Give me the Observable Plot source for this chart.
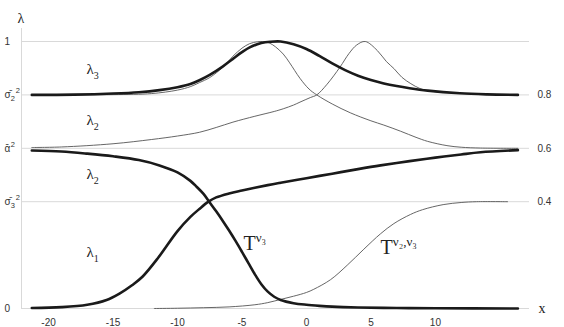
<!DOCTYPE html>
<html>
<head>
<meta charset="utf-8">
<script src="https://cdn.jsdelivr.net/npm/d3@7"></script>
<script src="https://cdn.jsdelivr.net/npm/@observablehq/plot@0.6"></script>
<style>
  html, body { margin: 0; padding: 0; background: #fff; }
  svg { display: block; }
</style>
</head>
<body>
<div id="chart"></div>
<script>
// ---- data ----
const xTicks = [-20, -15, -10, -5, 0, 5, 10];
const gridValues = [0, 0.4, 0.6, 0.8, 1];
const leftTickValues = [0, 0.4, 0.6, 0.8, 1];
const leftTickBase = ["0", "σ\u0304", "α\u0304", "σ\u0304", "1"];
const leftTickSub = ["", "3", "", "2", ""];
const leftTickSup = ["", "2", "2", "2", ""];
const rightTickValues = [0.4, 0.6, 0.8];
const rightTickLabels = ["0.4", "0.6", "0.8"];

// thick curves
const lam1X = [-21.3,-19,-17,-15.5,-14.5,-13.5,-12.7,-11.5,-10,-9,-8.3,-7.6,-7,-6,-5,-3,-2,0,2,4,5.75,8,10,12,13.5,16.4];
const lam1Y = [0.002,0.005,0.014,0.032,0.056,0.088,0.12,0.19,0.29,0.343,0.373,0.4,0.416,0.431,0.442,0.462,0.471,0.488,0.505,0.522,0.536,0.552,0.565,0.577,0.585,0.593];

const lam2X = [-21.3,-19,-17,-15,-13,-11.4,-10,-9,-8.5,-8,-7.5,-7,-6.5,-6,-5.5,-5,-4.5,-4,-3.5,-3,-2.5,-2,-1,0,1,2,4,7,10,16.4];
const lam2Y = [0.592,0.588,0.58,0.57,0.556,0.536,0.51,0.478,0.455,0.43,0.397,0.364,0.329,0.292,0.253,0.212,0.17,0.128,0.091,0.063,0.044,0.032,0.02,0.014,0.01,0.007,0.004,0.002,0.001,0.0];

const lam3X = [-21.3,-18,-15,-13,-11.4,-10,-9,-8.3,-7.5,-6.5,-5.7,-5,-4.4,-3.5,-2.8,-2,-1,0,1,2,3,4,5,6,7,8,9.4,11.9,14,16.4];
const lam3Y = [0.8,0.801,0.805,0.81,0.818,0.829,0.841,0.855,0.875,0.906,0.935,0.96,0.978,0.994,0.999,1.0,0.99,0.972,0.946,0.918,0.893,0.872,0.856,0.843,0.833,0.825,0.816,0.806,0.802,0.8];

// thin curves
const thinAX = [-21.3,-15,-12,-10,-9,-8.3,-7.5,-6.5,-5.7,-5,-4.4,-3.8,-3.4,-2.9,-2.4,-1.8,-1.3,-0.5,0.2,0.8,2,3.4,5,6,7.3,8.5,9.4,10.9,12,13.5,16.4];
const thinAY = [0.8,0.801,0.805,0.818,0.831,0.846,0.865,0.903,0.945,0.975,0.992,0.999,1.0,0.995,0.98,0.953,0.92,0.862,0.822,0.8,0.766,0.733,0.703,0.687,0.664,0.641,0.626,0.61,0.604,0.601,0.6];

const thinBX = [-21.3,-19,-15,-12,-10,-8.3,-7,-5.7,-4,-2.5,-1.8,-1,-0.5,0.3,0.8,1.6,2.6,3.3,3.9,4.56,5.5,6.2,6.8,7.4,8.1,8.8,9.5,11.9,14,16.4];
const thinBY = [0.603,0.605,0.617,0.633,0.646,0.66,0.678,0.698,0.72,0.738,0.748,0.762,0.773,0.79,0.8,0.84,0.904,0.955,0.987,1.0,0.966,0.925,0.898,0.866,0.842,0.824,0.815,0.806,0.802,0.8];

const thinTX = [-11.8,-10,-8,-6,-4,-3,-2,-1,0,0.57,1.87,3.16,4.45,5.75,6.78,8.06,9,10.6,12,13.2,15.6];
const thinTY = [0,0.001,0.003,0.006,0.014,0.022,0.034,0.046,0.06,0.072,0.108,0.162,0.222,0.28,0.318,0.352,0.37,0.389,0.397,0.4,0.4];

// curve labels
const labelX = [-17.06,-17.06,-17.06,-17.06,-4.88,5.75];
const labelY = [0.898,0.704,0.504,0.211,0.242,0.227];
const labelBase = ["λ","λ","λ","λ","T","T"];
const labelSub = ["3","2","2","1","",""];
const labelSup = ["","","","","ν\u2083","ν\u2082,ν\u2083"];

// ---- build tables ----
const toPts = (xs, ys) => xs.map((x, i) => ({x, y: ys[i]}));
const thick = [toPts(lam1X, lam1Y), toPts(lam2X, lam2Y), toPts(lam3X, lam3Y)];
const thin = [toPts(thinAX, thinAY), toPts(thinBX, thinBY), toPts(thinTX, thinTY)];
const labels = labelX.map((x, i) => ({x, y: labelY[i], base: labelBase[i], sub: labelSub[i], sup: labelSup[i], i}));
const leftTicks = leftTickValues.map((v, i) => ({v, base: leftTickBase[i], sub: leftTickSub[i], sup: leftTickSup[i], i}));

const xMin = -22.1, xMax = 17.3, yMax = 1.0487;
const sans = "'Liberation Sans', Arial, sans-serif";
const serif = "'Liberation Serif', 'Times New Roman', serif";

const svg = Plot.plot({
  width: 564,
  height: 327,
  marginLeft: 21,
  marginRight: 35,
  marginTop: 28,
  marginBottom: 19,
  x: {domain: [xMin, xMax], axis: null},
  y: {domain: [0, yMax], axis: null},
  style: {background: "#fff", overflow: "visible"},
  marks: [
    Plot.ruleY(gridValues, {x1: () => xMin, x2: () => xMax, stroke: "#d9d9d9", strokeWidth: 1}),
    Plot.ruleX([xMin], {y1: () => 0, y2: () => yMax, stroke: "#d9d9d9", strokeWidth: 1}),
    ...thin.map(d => Plot.line(d, {x: "x", y: "y", curve: "catmull-rom", stroke: "#555", strokeWidth: 0.9})),
    ...thick.map(d => Plot.line(d, {x: "x", y: "y", curve: "catmull-rom", stroke: "#1a1a1a", strokeWidth: 2.6})),
    // bottom tick labels
    Plot.text(xTicks, {x: d => d, y: () => 0, dy: 14, text: d => String(d), fontSize: 10, fill: "#333", fontFamily: sans}),
    // left tick labels
    Plot.text(leftTicks, {x: () => xMin, y: "v", dx: -17, textAnchor: "start", text: "base", ariaLabel: d => "left-tick-" + d.i, fontSize: 10, fill: "#333", fontFamily: sans}),
    // right tick labels
    Plot.text(rightTickValues, {x: () => xMax, y: d => d, dx: 8, textAnchor: "start", text: (d, i) => rightTickLabels[i], fontSize: 10, fill: "#333", fontFamily: sans}),
    // axis names
    Plot.text(["x"], {x: () => xMax, y: () => 0, dx: 9, textAnchor: "start", text: d => d, fontSize: 14, fill: "#222", fontFamily: serif}),
    Plot.text(["λ"], {frameAnchor: "top-left", dx: -4, dy: -15, text: d => d, fontSize: 14, fill: "#222", fontFamily: serif}),
    // curve labels
    Plot.text(labels, {x: "x", y: "y", text: "base", textAnchor: "start", ariaLabel: d => "curve-label-" + d.i,
      fontSize: d => d.base === "T" ? 20 : 15, fill: "#222", fontFamily: serif})
  ]
});

// add sub/superscripts as real tspans
d3.select(svg).selectAll("text[aria-label^='curve-label-']").each(function () {
  const idx = +this.getAttribute("aria-label").replace("curve-label-", "");
  const L = labels[idx];
  const t = d3.select(this);
  if (L.sub) t.append("tspan").attr("dy", 5).attr("font-size", 10).text(L.sub);
  if (L.sup) t.append("tspan").attr("dy", -8).attr("font-size", 13).text(L.sup);
});
d3.select(svg).selectAll("text[aria-label^='left-tick-']").each(function () {
  const idx = +this.getAttribute("aria-label").replace("left-tick-", "");
  const L = leftTicks[idx];
  const t = d3.select(this);
  if (L.sub) t.append("tspan").attr("dy", 3).attr("font-size", 7.5).text(L.sub);
  if (L.sup) t.append("tspan").attr("dy", L.sub ? -8 : -5).attr("dx", L.sub ? 1 : 0.5).attr("font-size", 7.5).text(L.sup);
});

document.getElementById("chart").appendChild(svg);
</script>
</body>
</html>
